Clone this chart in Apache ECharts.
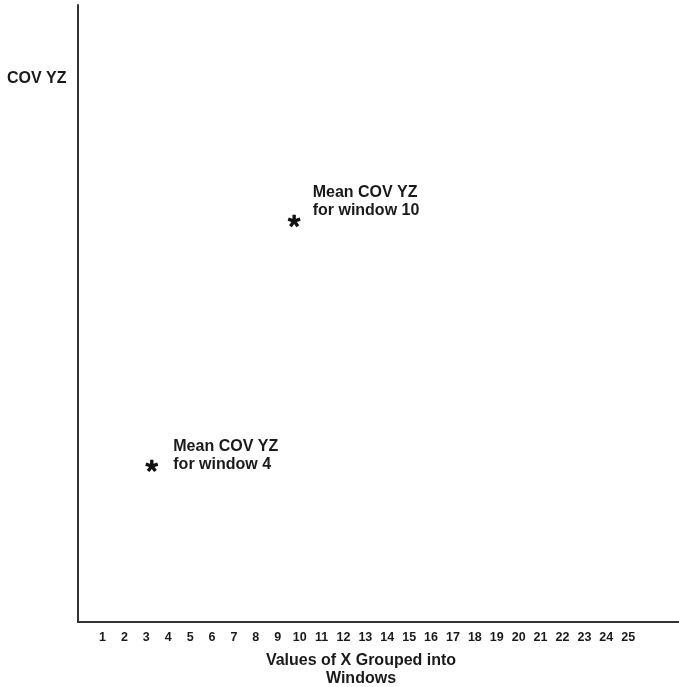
<!DOCTYPE html>
<html>
<head>
<meta charset="utf-8">
<script src="https://cdn.jsdelivr.net/npm/echarts@6/dist/echarts.min.js"></script>
<style>
html,body{margin:0;padding:0;background:#fff;}
#c{width:679px;height:687px;}
</style>
</head>
<body>
<div id="c"></div>
<script>
// ---- data ----
var tickValues = [1,2,3,4,5,6,7,8,9,10,11,12,13,14,15,16,17,18,19,20,21,22,23,24,25];
var pointX = [3.25, 9.75];
var pointY = [25.3, 65.0];
var pointLabels = ['Mean COV YZ\nfor window 4', 'Mean COV YZ\nfor window 10'];
var yAxisTitle = 'COV YZ';
var xAxisTitle = 'Values of X Grouped into\nWindows';

// asterisk symbol: single outline polygon with 5 thick arms
function asteriskPath() {
  var arms = 5, w = 0.27, step = 2 * Math.PI / arms;
  var rIn = w / Math.sin(step / 2);
  var pts = [];
  for (var i = 0; i < arms; i++) {
    var a = -Math.PI / 2 + i * step;
    var dx = Math.cos(a), dy = Math.sin(a);
    var px = -Math.sin(a), py = Math.cos(a);
    pts.push([dx - px * w, dy - py * w]);
    pts.push([dx + px * w, dy + py * w]);
    var b = a + step / 2;
    pts.push([Math.cos(b) * rIn, Math.sin(b) * rIn]);
  }
  var d = pts.map(function (p, k) {
    return (k ? 'L' : 'M') + p[0].toFixed(3) + ' ' + p[1].toFixed(3);
  }).join('') + 'Z';
  return 'path://' + d;
}

var labelTweaks = [
  {distance: 15, offset: [0, -10]},
  {distance: 12, offset: [0, -19]}
];

var FONT = '"Liberation Sans", Arial, Helvetica, sans-serif';
var data = pointX.map(function (x, i) {
  return {
    value: [x, pointY[i]],
    label: {
      show: true,
      formatter: pointLabels[i],
      position: 'right',
      distance: labelTweaks[i].distance,
      offset: labelTweaks[i].offset,
      align: 'left',
      verticalAlign: 'middle',
      fontFamily: FONT,
      fontWeight: 'bold',
      fontSize: 16,
      lineHeight: 18,
      color: '#1a1a1a'
    }
  };
});

var chart = echarts.init(document.getElementById('c'), null, {renderer: 'canvas'});
chart.setOption({
  animation: false,
  backgroundColor: '#fff',
  title: {
    text: yAxisTitle,
    left: 7,
    top: 71,
    padding: 0,
    textStyle: {fontFamily: FONT, fontWeight: 'bold', fontSize: 16, color: '#1a1a1a'}
  },
  grid: {left: 78, top: 5, right: 0, bottom: 65, outerBoundsMode: 'none', containLabel: false},
  xAxis: {
    type: 'value',
    min: -0.119,
    max: 27.32,
    splitLine: {show: false},
    axisTick: {show: false},
    axisLine: {show: true, onZero: false, lineStyle: {color: '#333', width: 2}},
    axisLabel: {
      customValues: tickValues,
      margin: 9,
      fontFamily: FONT,
      fontWeight: 'bold',
      fontSize: 12.5,
      color: '#1a1a1a'
    },
    name: xAxisTitle,
    nameLocation: 'middle',
    nameGap: 30,
    nameTextStyle: {
      fontFamily: FONT, fontWeight: 'bold', fontSize: 16, lineHeight: 18,
      color: '#1a1a1a', align: 'center', verticalAlign: 'top', padding: [0, 35, 0, 0]
    }
  },
  yAxis: {
    type: 'value',
    min: 0,
    max: 100,
    splitLine: {show: false},
    axisTick: {show: false},
    axisLabel: {show: false},
    axisLine: {show: true, onZero: false, lineStyle: {color: '#333', width: 2}}
  },
  series: [{
    type: 'scatter',
    symbol: asteriskPath(),
    symbolSize: 13,
    symbolKeepAspect: true,
    itemStyle: {color: '#111', opacity: 1},
    data: data
  }]
});
</script>
</body>
</html>
